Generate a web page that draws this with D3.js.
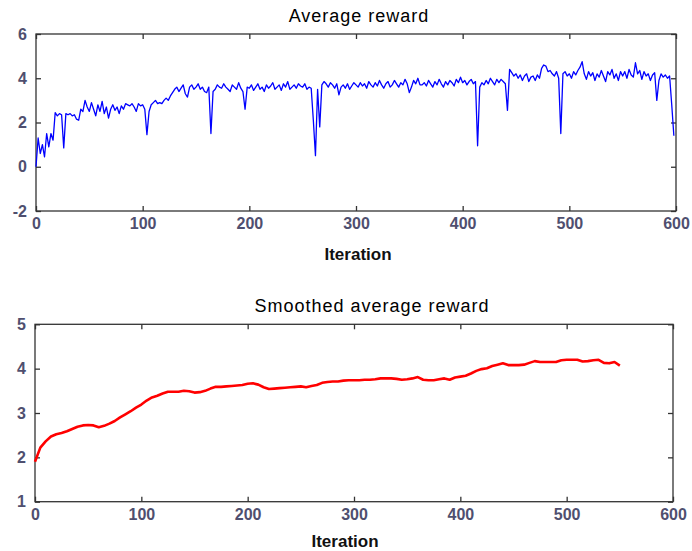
<!DOCTYPE html>
<html>
<head>
<meta charset="utf-8">
<script src="https://cdn.jsdelivr.net/npm/d3@7"></script>
<style>
  html, body { margin: 0; padding: 0; background: #ffffff; }
  svg { display: block; }
</style>
</head>
<body>
<svg id="chart" width="692" height="551"></svg>
<script>
// ---------- DATA ----------
const xTicks = [0, 100, 200, 300, 400, 500, 600];
const topYTicks = [-2, 0, 2, 4, 6];
const bottomYTicks = [1, 2, 3, 4, 5];

// Average reward, every 2nd iteration (0, 2, 4, ... 598)
const avgReward = [
  0.0, 1.3, 0.6, 1.0, 0.45, 1.5, 0.9, 1.5, 1.2, 2.45, 2.3, 2.4, 2.35, 0.85, 2.4, 2.35, 2.4, 2.3, 2.35, 2.15, 2.1, 2.6, 2.5, 3.0, 2.7,
  2.5, 2.9, 2.6, 2.3, 2.8, 2.5, 2.95, 2.4, 2.7, 2.2, 2.6, 2.8, 2.55, 2.7, 2.4, 2.75, 2.6, 2.85, 2.8, 2.75, 2.85, 2.7, 2.5, 2.85, 2.75,
  2.8, 2.6, 1.45, 2.5, 2.8, 2.9, 3.0, 2.85, 2.9, 2.85, 3.0, 3.1, 3.0, 3.2, 3.35, 3.5, 3.6, 3.4, 3.55, 3.7, 3.3, 3.15, 3.6, 3.7, 3.5,
  3.6, 3.75, 3.5, 3.6, 3.4, 3.35, 3.6, 1.5, 3.4, 3.5, 3.7, 3.6, 3.55, 3.75, 3.6, 3.5, 3.4, 3.7, 3.6, 3.5, 3.8, 3.55, 3.4, 2.6, 3.6,
  3.55, 3.7, 3.45, 3.6, 3.75, 3.5, 3.6, 3.4, 3.7, 3.55, 3.65, 3.8, 3.5, 3.6, 3.7, 3.45, 3.75, 3.6, 3.85, 3.5, 3.6, 3.7, 3.55, 3.75, 3.65,
  3.6, 3.75, 3.5, 3.6, 3.55, 2.1, 0.5, 3.5, 1.8, 3.7, 3.85, 3.75, 3.6, 3.8, 3.7, 3.55, 3.75, 3.25, 3.6, 3.7, 3.55, 3.75, 3.5, 3.65, 3.8,
  3.7, 3.6, 3.8, 3.65, 3.75, 3.55, 3.85, 3.7, 3.6, 3.8, 3.65, 3.9, 3.7, 3.55, 3.75, 3.85, 3.6, 3.7, 3.9, 3.75, 3.6, 3.8, 3.7, 3.95, 3.75,
  3.35, 3.6, 3.9, 3.75, 4.0, 3.7, 3.7, 3.8, 3.65, 3.9, 3.75, 3.6, 3.85, 3.7, 3.95, 3.75, 3.6, 3.85, 3.7, 3.9, 3.8, 3.65, 3.95, 3.8, 4.05,
  3.8, 3.9, 3.7, 3.85, 3.95, 3.75, 3.85, 0.95, 3.6, 3.8, 3.7, 3.9, 3.75, 4.0, 3.85, 3.7, 3.95, 3.8, 3.95, 3.85, 3.75, 2.55, 4.4, 4.25, 4.1,
  4.2, 4.0, 4.15, 3.9, 4.1, 4.2, 3.85, 4.05, 4.1, 3.9, 4.15, 4.0, 4.45, 4.6, 4.55, 4.3, 4.35, 4.2, 4.1, 4.3, 4.0, 1.5, 4.2, 4.3, 4.1,
  4.2, 4.0, 4.3, 4.15, 4.35, 4.5, 4.75, 4.2, 3.95, 4.3, 4.1, 4.25, 3.9, 4.2, 4.05, 4.35, 4.1, 3.85, 4.3, 4.15, 4.4, 4.0, 4.2, 3.9, 4.3,
  4.1, 4.3, 4.0, 4.4, 4.15, 4.05, 4.7, 4.2, 4.35, 3.95, 4.3, 4.1, 4.2, 3.9, 4.15, 4.25, 3.0, 3.9, 4.2, 4.05, 4.15, 4.0, 4.1, 2.8, 1.4
];
const avgIterations = d3.range(0, 600, 2);

// Smoothed average reward, every 5th iteration (0 ... 550)
const smoothReward = [
  1.90, 2.22, 2.36, 2.47, 2.52, 2.55, 2.59, 2.64, 2.69, 2.72,
  2.73, 2.72, 2.68, 2.71, 2.76, 2.82, 2.90, 2.97, 3.04, 3.12,
  3.19, 3.28, 3.35, 3.39, 3.44, 3.48, 3.48, 3.48, 3.50, 3.49,
  3.46, 3.47, 3.50, 3.55, 3.59, 3.59, 3.60, 3.61, 3.62, 3.63,
  3.66, 3.67, 3.64, 3.58, 3.54, 3.55, 3.56, 3.57, 3.58, 3.59,
  3.60, 3.58, 3.61, 3.63, 3.68, 3.70, 3.71, 3.71, 3.73, 3.74,
  3.74, 3.74, 3.75, 3.75, 3.76, 3.78, 3.78, 3.78, 3.77, 3.75,
  3.76, 3.78, 3.81, 3.75, 3.74, 3.74, 3.76, 3.78, 3.75, 3.80,
  3.82, 3.84, 3.89, 3.95, 3.99, 4.01, 4.06, 4.09, 4.12, 4.08,
  4.08, 4.08, 4.09, 4.13, 4.17, 4.15, 4.15, 4.15, 4.15, 4.19,
  4.20, 4.20, 4.20, 4.16, 4.17, 4.19, 4.20, 4.13, 4.12, 4.15,
  4.07
];
const smoothIterations = d3.range(0, 551, 5);

// ---------- DRAW ----------
const svg = d3.select("#chart");
const FONT = "'Liberation Sans', Arial, sans-serif";
const tickColor = "#4f4f6f";
const frameColor = "#333333";
const plainFormat = d => String(d); // ASCII hyphen for negatives, as in the reference

function panel(cfg) {
  const x = d3.scaleLinear().domain([0, 600]).range([cfg.left, cfg.right]);
  const y = d3.scaleLinear().domain(cfg.yDomain).range([cfg.bottom, cfg.top]);
  const g = svg.append("g");

  // frame
  g.append("rect")
    .attr("x", cfg.left).attr("y", cfg.top)
    .attr("width", cfg.right - cfg.left).attr("height", cfg.bottom - cfg.top)
    .attr("fill", "none").attr("stroke", frameColor).attr("stroke-width", 1.3);

  const styleAxis = (sel, labels) => {
    sel.select(".domain").remove();
    sel.selectAll(".tick line").attr("stroke", frameColor).attr("stroke-width", 1.3);
    sel.selectAll(".tick text")
      .attr("fill", tickColor)
      .style("font-family", FONT)
      .style("font-size", "16px")
      .style("font-weight", "bold");
    if (!labels) sel.selectAll(".tick text").remove();
  };

  g.append("g").attr("transform", `translate(0,${cfg.bottom})`)
    .call(d3.axisBottom(x).tickValues(xTicks).tickSizeInner(-5).tickSizeOuter(0).tickPadding(7).tickFormat(plainFormat))
    .call(s => styleAxis(s, true));
  g.append("g").attr("transform", `translate(0,${cfg.top})`)
    .call(d3.axisTop(x).tickValues(xTicks).tickSizeInner(-5).tickSizeOuter(0))
    .call(s => styleAxis(s, false));
  g.append("g").attr("transform", `translate(${cfg.left},0)`)
    .call(d3.axisLeft(y).tickValues(cfg.yTicks).tickSizeInner(-5).tickSizeOuter(0).tickPadding(9).tickFormat(plainFormat))
    .call(s => styleAxis(s, true));
  g.append("g").attr("transform", `translate(${cfg.right},0)`)
    .call(d3.axisRight(y).tickValues(cfg.yTicks).tickSizeInner(-5).tickSizeOuter(0))
    .call(s => styleAxis(s, false));

  // line
  const line = d3.line().x((d, i) => x(cfg.xs[i])).y(d => y(d));
  g.append("path").datum(cfg.ys)
    .attr("d", line)
    .attr("fill", "none")
    .attr("stroke", cfg.color)
    .attr("stroke-width", cfg.width)
    .attr("stroke-linejoin", "round");

  // title
  g.append("text")
    .attr("x", cfg.titleX).attr("y", cfg.titleY)
    .attr("text-anchor", "middle")
    .style("font-family", FONT).style("font-size", "18px")
    .style("letter-spacing", "1px")
    .attr("fill", "#000")
    .text(cfg.title);

  // x label
  g.append("text")
    .attr("x", cfg.xLabelX).attr("y", cfg.xLabelY)
    .attr("text-anchor", "middle")
    .style("font-family", FONT).style("font-size", "17px")
    .style("font-weight", "bold")
    .attr("fill", "#111")
    .text("Iteration");
}

panel({
  left: 36, right: 676, top: 34, bottom: 211,
  yDomain: [-2, 6], yTicks: topYTicks,
  xs: avgIterations, ys: avgReward, color: "#0000ff", width: 1.3,
  title: "Average reward", titleX: 359, titleY: 22,
  xLabelX: 358, xLabelY: 260
});

panel({
  left: 35, right: 673, top: 324.3, bottom: 501.7,
  yDomain: [1, 5], yTicks: bottomYTicks,
  xs: smoothIterations, ys: smoothReward, color: "#ff0000", width: 2.6,
  title: "Smoothed average reward", titleX: 372, titleY: 312,
  xLabelX: 345, xLabelY: 547
});
</script>
</body>
</html>
